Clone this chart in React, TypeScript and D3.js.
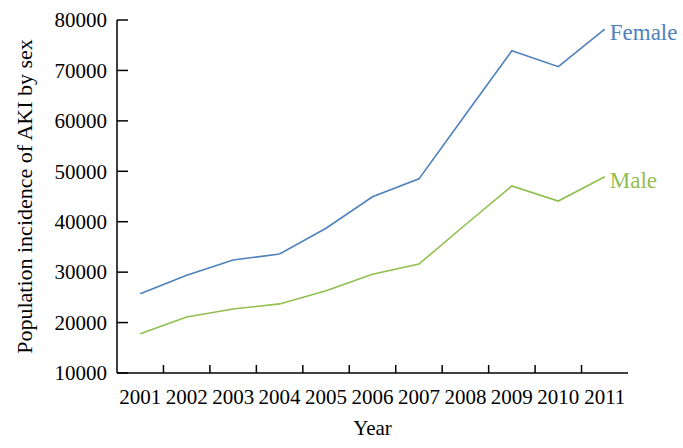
import React, { useEffect, useRef } from 'react';
import * as d3 from 'd3';

// Data
const years = ['2001', '2002', '2003', '2004', '2005', '2006', '2007', '2008', '2009', '2010', '2011'];
const female = [25700, 29400, 32400, 33600, 38700, 44950, 48500, 61200, 73900, 70750, 78200];
const male = [17800, 21100, 22700, 23700, 26300, 29600, 31600, 39400, 47100, 44100, 48900];
const yTicks = [10000, 20000, 30000, 40000, 50000, 60000, 70000, 80000];

const FONT = '"Liberation Serif", "DejaVu Serif", serif';
const FEMALE_COLOR = '#4f81bd';
const MALE_COLOR = '#8fbf4f';

const App = () => {
  const chartRef = useRef(null);

  useEffect(() => {
    d3.select(chartRef.current).selectAll('*').remove();

    const width = 683;
    const height = 448;
    const left = 117;
    const right = 628;
    const top = 20;
    const bottom = 373;

    const svg = d3
      .select(chartRef.current)
      .append('svg')
      .attr('width', width)
      .attr('height', height)
      .style('display', 'block');

    const xScale = d3.scaleBand().domain(years).range([left, right]).padding(0);
    const yScale = d3.scaleLinear().domain([10000, 80000]).range([bottom, top]);

    // Axes lines
    svg.append('line')
      .attr('x1', left).attr('x2', left).attr('y1', top).attr('y2', bottom)
      .attr('stroke', '#000').attr('stroke-width', 1.5);
    svg.append('line')
      .attr('x1', left).attr('x2', right).attr('y1', bottom).attr('y2', bottom)
      .attr('stroke', '#000').attr('stroke-width', 1.5);

    // Y ticks (inward) and labels
    yTicks.forEach((t) => {
      svg.append('line')
        .attr('x1', left).attr('x2', left + 11)
        .attr('y1', yScale(t)).attr('y2', yScale(t))
        .attr('stroke', '#000').attr('stroke-width', 1.5);
      svg.append('text')
        .text(t)
        .attr('x', left - 10)
        .attr('y', yScale(t))
        .attr('dy', '0.35em')
        .attr('text-anchor', 'end')
        .attr('font-family', FONT)
        .attr('font-size', '21px')
        .attr('fill', '#000');
    });

    // X ticks at band boundaries
    years.slice(1).forEach((y) => {
      svg.append('line')
        .attr('x1', xScale(y)).attr('x2', xScale(y))
        .attr('y1', bottom).attr('y2', bottom - 8)
        .attr('stroke', '#000').attr('stroke-width', 1.5);
    });
    years.forEach((y) => {
      svg.append('text')
        .text(y)
        .attr('x', xScale(y) + xScale.bandwidth() / 2)
        .attr('y', 404)
        .attr('text-anchor', 'middle')
        .attr('font-family', FONT)
        .attr('font-size', '21px')
        .attr('fill', '#000');
    });

    // Axis titles
    svg.append('text')
      .text('Year')
      .attr('x', (left + right) / 2)
      .attr('y', 435)
      .attr('text-anchor', 'middle')
      .attr('font-family', FONT)
      .attr('font-size', '21px')
      .attr('fill', '#000');

    svg.append('text')
      .text('Population incidence of AKI by sex')
      .attr('transform', 'rotate(-90)')
      .attr('x', -(top + bottom) / 2)
      .attr('y', 32)
      .attr('text-anchor', 'middle')
      .attr('font-family', FONT)
      .attr('font-size', '22px')
      .attr('fill', '#000');

    // Lines
    const line = d3.line()
      .x((d, i) => xScale(years[i]) + xScale.bandwidth() / 2)
      .y((d) => yScale(d));

    svg.append('path')
      .datum(female)
      .attr('d', line)
      .attr('fill', 'none')
      .attr('stroke', FEMALE_COLOR)
      .attr('stroke-width', 1.6);

    svg.append('path')
      .datum(male)
      .attr('d', line)
      .attr('fill', 'none')
      .attr('stroke', MALE_COLOR)
      .attr('stroke-width', 1.6);

    // Series labels
    const lastX = xScale(years[years.length - 1]) + xScale.bandwidth() / 2;
    svg.append('text')
      .text('Female')
      .attr('x', lastX + 5)
      .attr('y', yScale(female[female.length - 1]) + 3)
      .attr('dy', '0.35em')
      .attr('font-family', FONT)
      .attr('font-size', '23px')
      .attr('fill', FEMALE_COLOR);

    svg.append('text')
      .text('Male')
      .attr('x', lastX + 5)
      .attr('y', yScale(male[male.length - 1]) + 3)
      .attr('dy', '0.35em')
      .attr('font-family', FONT)
      .attr('font-size', '23px')
      .attr('fill', MALE_COLOR);
  }, []);

  return <div ref={chartRef} style={{ position: 'absolute', left: 0, top: 0, width: 683, height: 448, overflow: 'hidden' }}></div>;
};

export default App;
